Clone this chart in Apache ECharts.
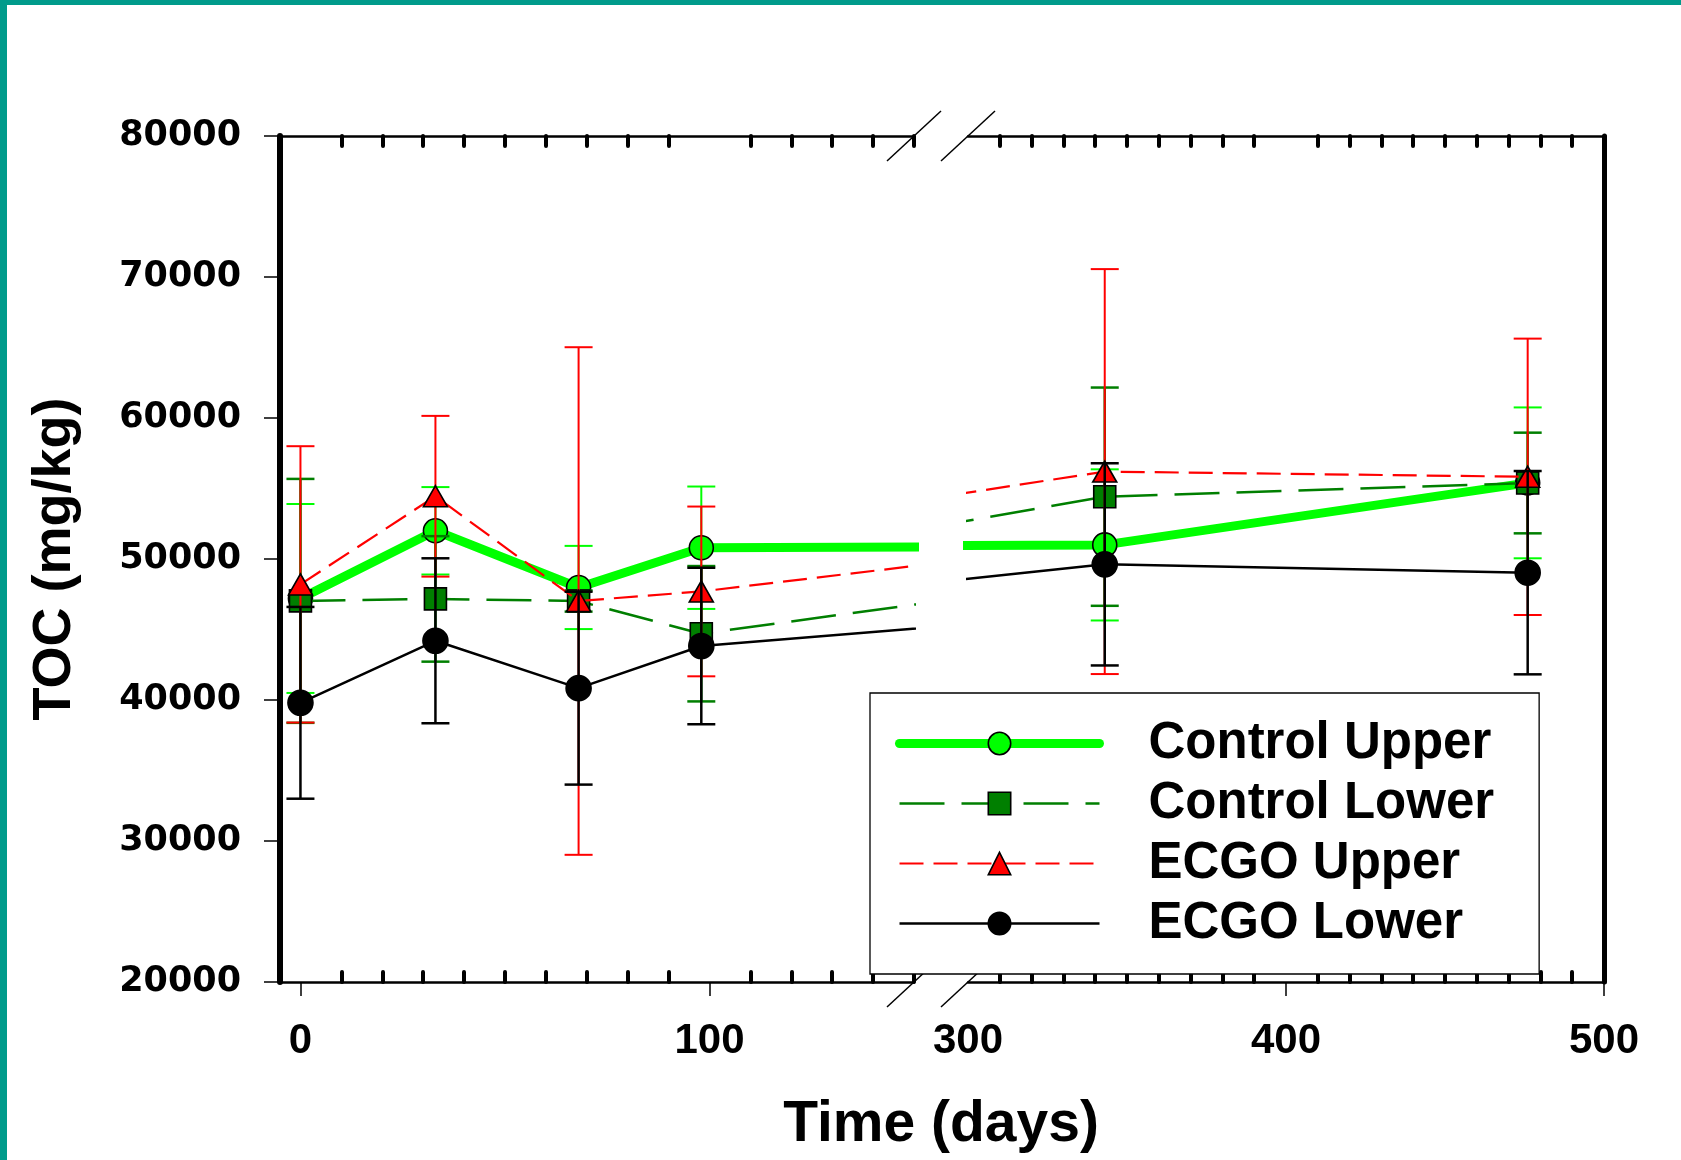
<!DOCTYPE html>
<html>
<head>
<meta charset="utf-8">
<script src="https://cdn.jsdelivr.net/npm/echarts@6/dist/echarts.min.js"></script>
<style>
html,body{margin:0;padding:0;background:#fff;}
#chart{width:1681px;height:1160px;}
</style>
</head>
<body>
<div id="chart"></div>
<script>
// ---- data ----
const days = [0, 33, 68, 98, 343, 476];
const controlUpper   = [47200, 52000, 47980, 50800, 51000, 55400];
const controlUpperSD = [6700, 3100, 2950, 4340, 5360, 5350];
const controlLower   = [47030, 47170, 47020, 44700, 54420, 55390];
const controlLowerSD = [8650, 4450, 750, 4800, 7740, 3570];
const ecgoUpper      = [48200, 54450, 47020, 47700, 56200, 55830];
const ecgoUpperSD    = [9800, 5700, 18000, 6020, 14360, 9800];
const ecgoLower      = [39800, 44200, 40840, 43830, 49620, 49030];
const ecgoLowerSD    = [6800, 5850, 6840, 5550, 7170, 7210];

const leftRange = [-5, 150];
const rightRange = [300, 500];
const leftMajor = [0, 100];
const leftMinor = [10, 20, 30, 40, 50, 60, 70, 80, 90, 110, 120, 130, 140, 150];
const rightLabels = [300, 400, 500];
const rightMajor = [400, 500];
const rightMinor = [310, 320, 330, 340, 350, 360, 370, 380, 390, 410, 420, 430, 440, 450, 460, 470, 480, 490];
const yMin = 20000, yMax = 80000, yStep = 10000;

// ---- layout ----
const G = {top: 136, height: 846, lLeft: 280, lWidth: 634, rLeft: 968, rWidth: 636};
const FONT = "'Liberation Sans', Arial, sans-serif";

const defs = [
  {name: 'Control Upper', mean: controlUpper, sd: controlUpperSD,
   line: {color: '#00ff00', width: 9, type: 'solid', cap: 'round', join: 'round'},
   symbol: 'circle', size: 24, fill: '#00ff00', eb: '#00ff00', ebw: 2},
  {name: 'Control Lower', mean: controlLower, sd: controlLowerSD,
   line: {color: '#007f00', width: 2.5, type: [45, 17]},
   symbol: 'rect', size: 22, fill: '#007f00', eb: '#007f00', ebw: 2.5},
  {name: 'ECGO Upper', mean: ecgoUpper, sd: ecgoUpperSD,
   line: {color: '#ff0000', width: 2.2, type: [24, 10]},
   symbol: 'triangle', size: [24, 21], fill: '#ff0000', eb: '#ff0000', ebw: 2},
  {name: 'ECGO Lower', mean: ecgoLower, sd: ecgoLowerSD,
   line: {color: '#000000', width: 2.5, type: 'solid'},
   symbol: 'circle', size: 25, fill: '#000000', eb: '#000000', ebw: 2.5}
];

function errRender(color, width) {
  return function (params, api) {
    const x = api.value(0), m = api.value(1), s = api.value(2);
    const t = api.coord([x, m + s]);
    const b = api.coord([x, m - s]);
    const hw = 14;
    const st = {stroke: color, lineWidth: width};
    return {type: 'group', children: [
      {type: 'line', shape: {x1: t[0], y1: t[1], x2: b[0], y2: b[1]}, style: st},
      {type: 'line', shape: {x1: t[0] - hw, y1: t[1], x2: t[0] + hw, y2: t[1]}, style: st},
      {type: 'line', shape: {x1: b[0] - hw, y1: b[1], x2: b[0] + hw, y2: b[1]}, style: st}
    ]};
  };
}

const series = [];
defs.forEach((d, i) => {
  const pts = days.map((x, k) => [x, d.mean[k]]);
  [[0, 0], [3, 2]].forEach(([xi, yi]) => {
    series.push({
      type: 'line', name: d.name, xAxisIndex: xi, yAxisIndex: yi,
      data: pts, clip: true, z: 3 + 2 * i,
      symbol: d.symbol, symbolSize: d.size, showAllSymbol: true,
      lineStyle: d.line,
      itemStyle: {color: d.fill, borderColor: '#000', borderWidth: 1.6},
      emphasis: {disabled: true}
    });
  });
});
defs.forEach((d, i) => {
  const all = days.map((x, k) => [x, d.mean[k], d.sd[k]]);
  [[0, 0, leftRange], [3, 2, rightRange]].forEach(([xi, yi, rg]) => {
    series.push({
      type: 'custom', name: d.name, xAxisIndex: xi, yAxisIndex: yi, z: 2 + 2 * i,
      data: all.filter(p => p[0] >= rg[0] && p[0] <= rg[1]),
      encode: {x: 0, y: 1},
      renderItem: errRender(d.eb, d.ebw),
      silent: true
    });
  });
});

const blk = '#000';
function xAx(grid, pos, rng, opts) {
  return Object.assign({
    type: 'value', gridIndex: grid, position: pos, min: rng[0], max: rng[1],
    splitLine: {show: false}
  }, opts);
}
const minorTick = vals => ({show: true, inside: true, length: 10, customValues: vals,
  lineStyle: {color: blk, width: 4, cap: 'round'}});
const lineOn = w => ({show: true, onZero: false, lineStyle: {color: blk, width: w, type: 'solid'}});

const xAxis = [
  xAx(0, 'bottom', leftRange, {
    axisLine: lineOn(2.5),
    axisTick: {show: true, inside: false, length: 14, customValues: leftMajor, lineStyle: {color: blk, width: 1.5}},
    axisLabel: {show: true, customValues: leftMajor, margin: 38, fontFamily: FONT, fontWeight: 'bold', fontSize: 42, color: blk}
  }),
  xAx(0, 'top', leftRange, {
    axisLine: lineOn(2.5), axisTick: minorTick(leftMinor), axisLabel: {show: false}
  }),
  xAx(1, 'bottom', leftRange, {
    axisLine: {show: false, onZero: false}, axisTick: minorTick(leftMinor), axisLabel: {show: false}
  }),
  xAx(2, 'bottom', rightRange, {
    axisLine: lineOn(2.5),
    axisTick: {show: true, inside: false, length: 14, customValues: rightMajor, lineStyle: {color: blk, width: 1.5}},
    axisLabel: {show: true, customValues: rightLabels, margin: 38, fontFamily: FONT, fontWeight: 'bold', fontSize: 42, color: blk}
  }),
  xAx(2, 'top', rightRange, {
    axisLine: lineOn(2.5), axisTick: minorTick(rightMinor), axisLabel: {show: false}
  }),
  xAx(3, 'bottom', rightRange, {
    axisLine: {show: false, onZero: false}, axisTick: minorTick(rightMinor), axisLabel: {show: false}
  })
];

const yBase = {type: 'value', min: yMin, max: yMax, interval: yStep, splitLine: {show: false}};
const yAxis = [
  Object.assign({}, yBase, {
    gridIndex: 0, position: 'left', z: 12,
    axisLine: lineOn(6),
    axisTick: {show: true, inside: false, length: 16, lineStyle: {color: blk, width: 1.5}},
    axisLabel: {show: true, margin: 39, formatter: v => String(v),
      fontFamily: "'DejaVu Sans', sans-serif", fontWeight: 'bold', fontSize: 35, color: blk},
    name: 'TOC (mg/kg)', nameLocation: 'middle', nameRotate: 90, nameGap: 198,
    nameTextStyle: {fontFamily: FONT, fontWeight: 'bold', fontSize: 54, color: blk}
  }),
  Object.assign({}, yBase, {gridIndex: 1, show: false}),
  Object.assign({}, yBase, {
    gridIndex: 2, position: 'right', z: 12,
    axisLine: lineOn(5),
    axisTick: {show: false}, axisLabel: {show: false}
  }),
  Object.assign({}, yBase, {gridIndex: 3, show: false})
];

const grid = [
  {left: G.lLeft, top: G.top, width: G.lWidth, height: G.height},
  {left: G.lLeft, top: G.top, width: G.lWidth, height: G.height},
  {left: G.rLeft, top: G.top, width: G.rWidth, height: G.height},
  {left: G.rLeft, top: G.top, width: G.rWidth, height: G.height}
];

// axis-break marks (decoration)
const breakX = [G.lLeft + G.lWidth, G.rLeft];
const breakY = [G.top, G.top + G.height];
const graphics = [
  {type: 'rect', left: 0, top: 0, shape: {width: 1681, height: 5}, style: {fill: '#009b8b'}, z: 50},
  {type: 'rect', left: 0, top: 0, shape: {width: 7, height: 1160}, style: {fill: '#009b8b'}, z: 50}
];
breakX.forEach(bx => breakY.forEach(by => {
  graphics.push({type: 'line', shape: {x1: bx - 27, y1: by + 25, x2: bx + 27, y2: by - 25},
    style: {stroke: '#000', lineWidth: 1.5}, z: 1});
}));

const option = {
  animation: false,
  backgroundColor: '#fff',
  title: {text: 'Time (days)', left: 941, top: 1097, textAlign: 'center', padding: 0,
    textStyle: {fontFamily: FONT, fontWeight: 'bold', fontSize: 57, color: blk}},
  legend: {
    data: defs.map(d => d.name), orient: 'vertical', left: 870, top: 693,
    itemWidth: 200, itemHeight: 28, itemGap: 9,
    padding: [25, 45, 25, 25],
    backgroundColor: '#fff', borderColor: '#000', borderWidth: 1.3,
    selectedMode: false, z: 20,
    lineStyle: {width: 'inherit', type: 'inherit', cap: 'inherit'},
    itemStyle: {borderWidth: 'inherit', borderColor: 'inherit'},
    textStyle: {fontFamily: FONT, fontWeight: 'bold', fontSize: 51, color: blk, padding: [0, 0, 0, 44]}
  },
  grid: grid,
  xAxis: xAxis,
  yAxis: yAxis,
  series: series,
  graphic: graphics
};

const chart = echarts.init(document.getElementById('chart'), null, {renderer: 'canvas'});
chart.setOption(option);
</script>
</body>
</html>
